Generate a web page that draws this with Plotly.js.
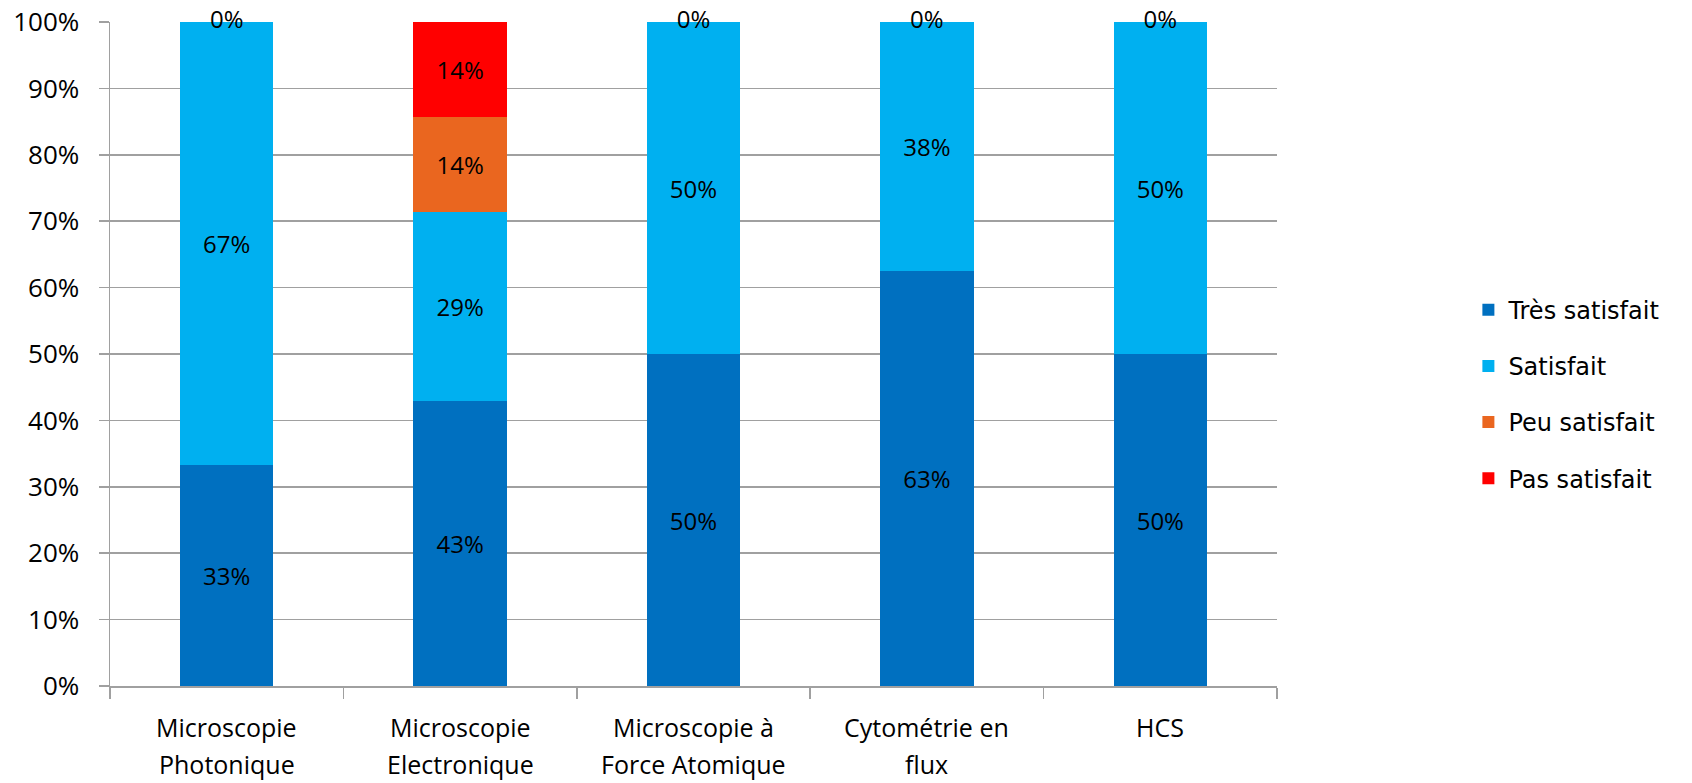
<!DOCTYPE html>
<html>
<head>
<meta charset="utf-8">
<script src="https://cdn.plot.ly/plotly-3.0.1.min.js"></script>
<style>html,body{margin:0;padding:0;background:#fff;}#chart{width:1692px;height:783px;}</style>
</head>
<body>
<div id="chart"></div>
<script>
var line1 = ["Microscopie", "Microscopie", "Microscopie à", "Cytométrie en", "HCS"];
var line2 = ["Photonique", "Electronique", "Force Atomique", "flux", ""];
var categories = line1.map(function(l, i){ return (l + " " + line2[i]).trim(); });
var seriesNames = ["Très satisfait", "Satisfait", "Peu satisfait", "Pas satisfait"];
var tresSatisfait = [33.33, 42.86, 50, 62.5, 50];
var satisfait = [66.67, 28.57, 50, 37.5, 50];
var peuSatisfait = [0, 14.29, 0, 0, 0];
var pasSatisfait = [0, 14.28, 0, 0, 0];
var yTickVals = [0,10,20,30,40,50,60,70,80,90,100];
var colors = ["#0070C0", "#00B0F0", "#EA661F", "#FF0000"];

var allSeries = [tresSatisfait, satisfait, peuSatisfait, pasSatisfait];
var labelFont = {family: "Open Sans, sans-serif", size: 24, color: "#000"};
var axisFont = {family: "Open Sans, sans-serif", size: 25, color: "#000"};

var traces = allSeries.map(function(vals, k){
  return {
    type: "bar",
    name: seriesNames[k],
    x: categories,
    y: vals,
    marker: {color: colors[k], line: {width: 0}},
    text: vals.map(function(v){ return v > 0 ? Math.round(v) + "%" : ""; }),
    textposition: "inside",
    insidetextanchor: "middle",
    textangle: 0,
    textfont: labelFont,
    constraintext: "none",
    legendgroup: "g" + k,
    hoverinfo: "x+y+name"
  };
});

// zero-value labels drawn at the top of the stack
var zx = [], zy = [], zt = [];
categories.forEach(function(c, i){
  if (peuSatisfait[i] === 0 || pasSatisfait[i] === 0) {
    zx.push(c);
    zy.push(tresSatisfait[i] + satisfait[i] + peuSatisfait[i] + pasSatisfait[i]);
    zt.push("0%");
  }
});
traces.push({
  type: "scatter", mode: "text", x: zx, y: zy, text: zt,
  textposition: "middle center", textfont: labelFont,
  showlegend: false, cliponaxis: false, hoverinfo: "skip"
});

var annotations = [];
categories.forEach(function(c, i){
  annotations.push({x: c, xref: "x", y: 0, yref: "paper", yanchor: "middle", yshift: -41,
    text: line1[i], showarrow: false, font: axisFont, borderpad: 0});
  if (line2[i]) annotations.push({x: c, xref: "x", y: 0, yref: "paper", yanchor: "middle", yshift: -78,
    text: line2[i], showarrow: false, font: axisFont, borderpad: 0});
});

var layout = {
  width: 1692, height: 783,
  margin: {l: 110, r: 415, t: 22, b: 97},
  paper_bgcolor: "#fff", plot_bgcolor: "#fff",
  barmode: "stack",
  bargap: 0.6,
  showlegend: true,
  legend: {x: 1.164, xanchor: "left", y: 0.6, yanchor: "top", traceorder: "grouped", tracegroupgap: 22,
    itemwidth: 30,
    font: {family: "DejaVu Sans, sans-serif", size: 24, color: "#000"}, bgcolor: "rgba(0,0,0,0)"},
  xaxis: {
    type: "category", showticklabels: false, tickson: "boundaries", ticks: "outside", ticklen: 11,
    tickcolor: "#A0A0A0", tickwidth: 1.5, showline: true, linecolor: "#A0A0A0", linewidth: 1.5,
    showgrid: false, zeroline: false, fixedrange: true
  },
  yaxis: {
    range: [0, 100], tickvals: yTickVals, ticktext: yTickVals.map(function(v){ return v + "%"; }),
    ticks: "outside", ticklen: 10, tickcolor: "#A0A0A0", tickwidth: 1.5, ticklabelstandoff: 14,
    showline: true, linecolor: "#A0A0A0", linewidth: 1.5,
    showgrid: true, gridcolor: "#A0A0A0", gridwidth: 1.5, zeroline: false,
    tickfont: {family: "Open Sans, sans-serif", size: 26, color: "#000"}, fixedrange: true
  },
  annotations: annotations
};

Plotly.newPlot("chart", traces, layout, {displayModeBar: false, staticPlot: true});
</script>
</body>
</html>
